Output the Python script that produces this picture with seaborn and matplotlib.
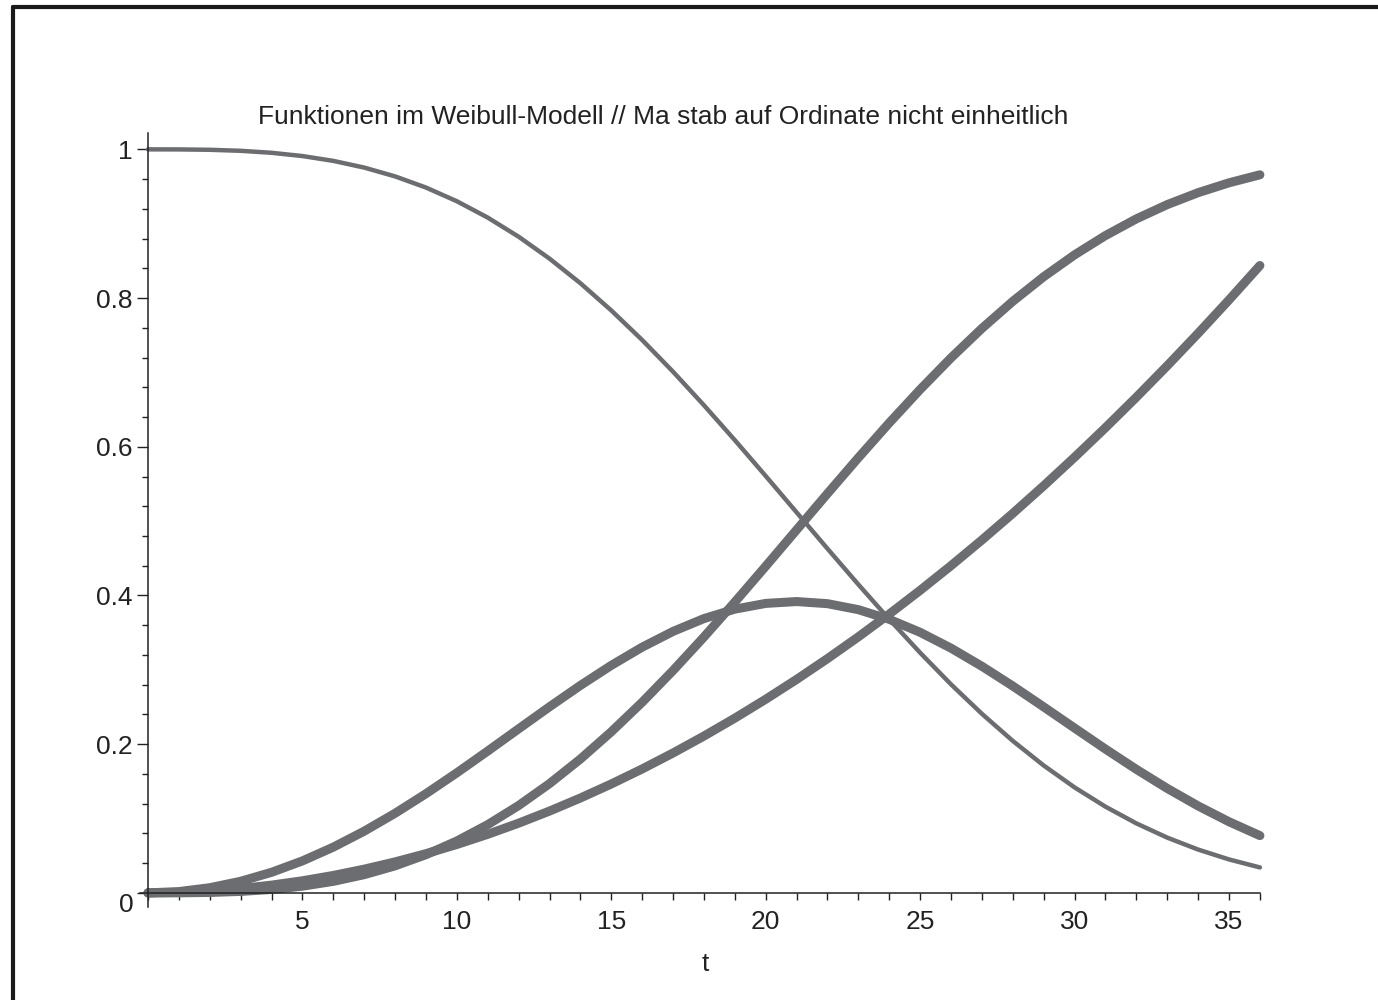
import matplotlib
matplotlib.use('Agg')
import matplotlib.pyplot as plt
import seaborn as sns
from matplotlib.lines import Line2D
from matplotlib.ticker import MultipleLocator

# values, t = 0 .. 36
t = list(range(37))

survival = [1.0, 0.99993, 0.99942, 0.99805, 0.99538, 0.991, 0.9845, 0.97549, 0.96364, 0.94863,
            0.93022, 0.90821, 0.8825, 0.85305, 0.81996, 0.78335, 0.74358, 0.7009, 0.65583, 0.60888,
            0.56064, 0.51175, 0.4629, 0.41474, 0.36788, 0.32295, 0.28043, 0.24079, 0.20436, 0.17131,
            0.14186, 0.11592, 0.09346, 0.0743, 0.05825, 0.04498, 0.03422]

cdf = [0.0, 0.00007, 0.00058, 0.00195, 0.00462, 0.009, 0.0155, 0.02451, 0.03636, 0.05137,
       0.06978, 0.09179, 0.1175, 0.14695, 0.18004, 0.21665, 0.25642, 0.2991, 0.34417, 0.39112,
       0.43936, 0.48825, 0.5371, 0.58526, 0.63212, 0.67705, 0.71957, 0.75921, 0.79564, 0.82869,
       0.85814, 0.88408, 0.90654, 0.9257, 0.94175, 0.95502, 0.96578]

density_scaled = [0.0, 0.00174, 0.00694, 0.01559, 0.02765, 0.04301, 0.06153, 0.08298, 0.10707, 0.1334,
                  0.1615, 0.19079, 0.22063, 0.25029, 0.27902, 0.306, 0.33048, 0.35167, 0.36891, 0.38161,
                  0.38933, 0.39181, 0.38896, 0.3809, 0.36788, 0.35042, 0.32912, 0.30475, 0.27816, 0.25013,
                  0.22166, 0.1934, 0.16615, 0.14048, 0.1169, 0.09566, 0.077]

hazard_scaled = [0.0, 0.00065, 0.0026, 0.00586, 0.01042, 0.01628, 0.02344, 0.0319, 0.04167, 0.05273,
                 0.0651, 0.07878, 0.09375, 0.11003, 0.1276, 0.14648, 0.16667, 0.18815, 0.21094, 0.23503,
                 0.26042, 0.28711, 0.3151, 0.3444, 0.375, 0.4069, 0.4401, 0.47461, 0.51042, 0.54753,
                 0.58594, 0.62565, 0.66667, 0.70898, 0.7526, 0.79753, 0.84375]

title = 'Funktionen im Weibull-Modell // Ma stab auf Ordinate nicht einheitlich'
x_ticks = [5, 10, 15, 20, 25, 30, 35]
y_ticks = [0, 0.2, 0.4, 0.6, 0.8, 1]
y_labels = ['', '0.2', '0.4', '0.6', '0.8', '1']

sns.set_style('white')
plt.rcParams['font.family'] = ['Liberation Sans', 'DejaVu Sans']

fig = plt.figure(figsize=(13.78, 10), dpi=100)
ax = fig.add_axes([0.1018, 0.093, 0.8125, 0.774])

line_color = '#6c6d71'
for vals, lw in [(survival, 3.2), (cdf, 6.5), (density_scaled, 6.5), (hazard_scaled, 6.5)]:
    sns.lineplot(x=t, y=vals, ax=ax, color=line_color, linewidth=lw,
                 solid_capstyle='round', estimator=None, sort=False, clip_on=False)

ax.set_xlim(-0.25, 36)
ax.set_ylim(-0.019, 1.022)

for s in ['top', 'right']:
    ax.spines[s].set_visible(False)
for s in ['left', 'bottom']:
    ax.spines[s].set_position(('data', 0))
    ax.spines[s].set_color('#222222')
    ax.spines[s].set_linewidth(1.1)

ax.set_xticks(x_ticks)
ax.set_xticklabels([str(v) for v in x_ticks])
ax.xaxis.set_minor_locator(MultipleLocator(1))
ax.set_yticks(y_ticks)
ax.set_yticklabels(y_labels)
ax.yaxis.set_minor_locator(MultipleLocator(0.04))

ax.tick_params(axis='x', which='both', bottom=True, direction='out', length=5, width=1,
               pad=7, labelsize=19, color='#222222', labelcolor='#222222')
ax.tick_params(axis='y', which='major', left=True, direction='out', length=8, width=1,
               pad=3, labelsize=19, color='#222222', labelcolor='#222222')
ax.tick_params(axis='y', which='minor', left=True, direction='out', length=4, width=1,
               color='#222222')

ax.annotate('0', xy=(0, 0), xycoords='data', xytext=(-10, -8.6), textcoords='offset points',
            ha='right', va='center', fontsize=19, color='#222222')

fig.text(663 / 1378, 1 - 117 / 1000, title, ha='center', va='center', fontsize=19, color='#222222')
fig.text(705 / 1378, 0.036, 't', ha='center', va='center', fontsize=19, color='#222222')

# frame around the picture
fig.add_artist(Line2D([13 / 1378, 13 / 1378], [0, 1 - 7 / 1000], transform=fig.transFigure,
                      color='#1a1a1a', linewidth=3))
fig.add_artist(Line2D([13 / 1378, 1], [1 - 7 / 1000, 1 - 7 / 1000], transform=fig.transFigure,
                      color='#1a1a1a', linewidth=3))

fig.savefig('out.png', dpi=100)
